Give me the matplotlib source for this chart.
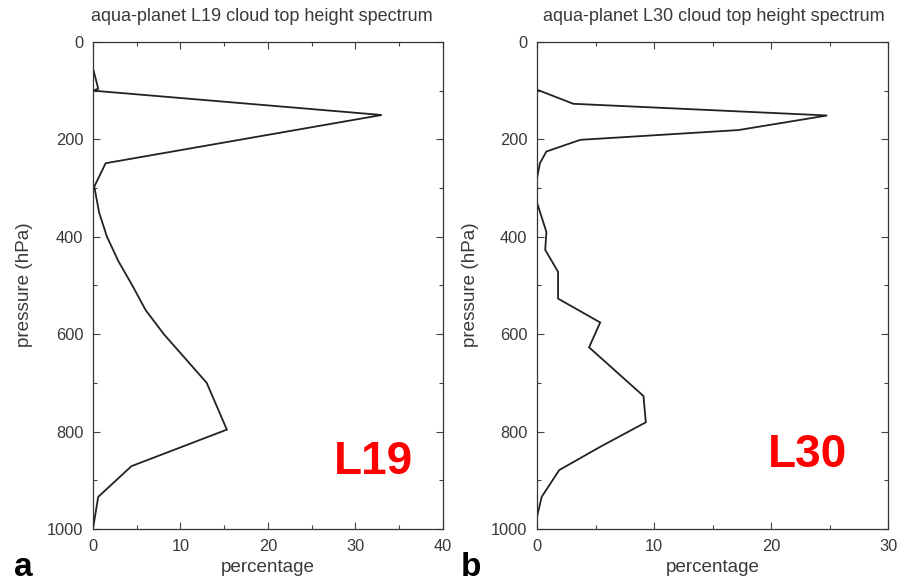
import matplotlib
matplotlib.use("Agg")
import matplotlib.pyplot as plt
from matplotlib.ticker import MultipleLocator

plt.rcParams['font.family'] = ['Liberation Sans', 'DejaVu Sans']

# L19 cloud top height spectrum: pressure (hPa) vs percentage
l19_pressure = [0, 54, 96, 100, 150, 249, 297, 350, 400, 450, 500, 550, 600, 700, 796, 871, 934, 1000]
l19_percent = [0.0, 0.0, 0.6, 0.0, 33.0, 1.45, 0.15, 0.7, 1.6, 2.9, 4.5, 6.0, 8.1, 13.0, 15.3, 4.4, 0.6, 0.0]

# L30 cloud top height spectrum
l30_pressure = [0, 98, 127, 151, 181, 201, 225, 249, 280, 330, 360, 390, 427, 472, 527, 576, 627,
                727, 781, 830, 879, 934, 975, 1000]
l30_percent = [0.0, 0.0, 3.1, 24.8, 17.2, 3.7, 0.8, 0.25, 0.0, 0.0, 0.4, 0.8, 0.7, 1.8, 1.8, 5.4, 4.45,
               9.1, 9.3, 5.5, 1.9, 0.4, 0.0, 0.0]

panels = [
    dict(title="aqua-planet L19 cloud top height spectrum", p=l19_pressure, v=l19_percent,
         xmax=40, xticks=[0, 10, 20, 30, 40], xticklabels=["0", "10", "20", "30", "40"],
         tag="L19", letter="a"),
    dict(title="aqua-planet L30 cloud top height spectrum", p=l30_pressure, v=l30_percent,
         xmax=30, xticks=[0, 10, 20, 30], xticklabels=["0", "10", "20", "30"],
         tag="L30", letter="b"),
]

fig = plt.figure(figsize=(9.15, 5.84), dpi=100)
positions = [[0.1016, 0.0942, 0.3825, 0.834], [0.5869, 0.0942, 0.3836, 0.834]]
tag_pos = [(0.408, 0.209), (0.883, 0.221)]
letter_x = [0.025, 0.515]
ylabel_x = [0.027, 0.514]
title_x = [0.286, 0.780]

text_col = "#3a3a3a"
for ax_pos, panel, tp, lx, ylx, tx in zip(positions, panels, tag_pos, letter_x, ylabel_x, title_x):
    ax = fig.add_axes(ax_pos)
    ax.plot(panel["v"], panel["p"], color="#222222", lw=1.3, solid_joinstyle="miter")
    ax.set_xlim(0, panel["xmax"])
    ax.set_ylim(1000, 0)
    ax.set_xticks(panel["xticks"])
    ax.set_xticklabels(panel["xticklabels"])
    ax.xaxis.set_minor_locator(MultipleLocator(5))
    ax.yaxis.set_major_locator(MultipleLocator(200))
    ax.yaxis.set_minor_locator(MultipleLocator(100))
    ax.tick_params(which="both", direction="in", top=True, right=True, colors="#444444",
                   labelcolor=text_col, labelsize=11.8, width=0.8)
    ax.tick_params(which="major", length=5, pad=7)
    ax.tick_params(which="minor", length=3)
    for s in ax.spines.values():
        s.set_color("#333333")
        s.set_linewidth(0.9)
    fig.text(tx, 0.971, panel["title"], fontsize=13, color=text_col, ha="center", va="center")
    ax.set_xlabel("percentage", fontsize=13.6, color=text_col, labelpad=4)
    fig.text(ylx, 0.512, "pressure (hPa)", rotation=90, ha="center", va="center",
             fontsize=13.6, color=text_col)
    fig.text(tp[0], tp[1], panel["tag"], color="#ff0000", fontsize=33, fontweight="bold",
             ha="center", va="center")
    fig.text(lx, 0.028, panel["letter"], color="black", fontsize=24, fontweight="bold",
             ha="center", va="center")

fig.savefig("out.png", dpi=100)
